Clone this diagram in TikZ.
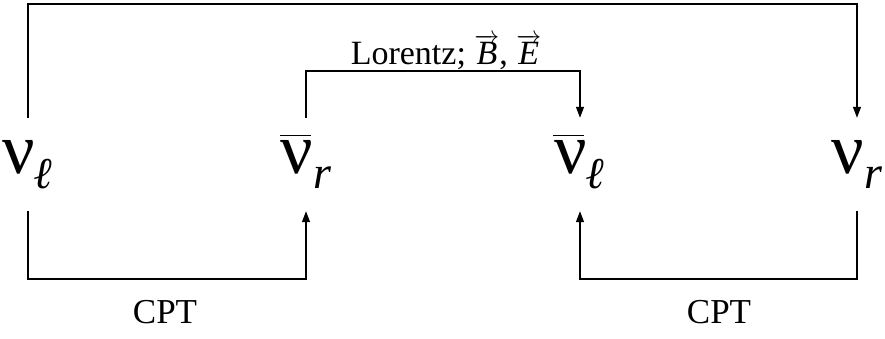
\documentclass[tikz,border=0pt]{standalone}
\usepackage{fontspec}
\setmainfont{Liberation Serif}
\usetikzlibrary{arrows.meta}
\newcommand\nuBig{\fontsize{72}{72}\selectfont ν}
\newcommand\nuBar{\rlap{\hspace{-1pt}\raisebox{38pt}{\rule{31pt}{1.4pt}}}\nuBig}
\newcommand\subsc[1]{\raisebox{-14pt}{\fontsize{46}{46}\selectfont\itshape #1}}
\newcommand\subell{\raisebox{-14pt}{\fontsize{44}{44}\selectfont\bfseries\itshape ℓ}}
\begin{document}
\begin{tikzpicture}[x=1pt,y=-1pt,
  lvl/.style={anchor=base,inner xsep=0pt,inner ysep=0pt,text height=56pt,text depth=37pt},
  conn/.style={line width=1.2pt},
  arr/.style={conn,-{Triangle[length=11pt,width=8pt]}},
  lab/.style={anchor=base,inner sep=0pt,font=\fontsize{34}{34}\selectfont}]
\useasboundingbox (0,0) rectangle (885,339);
\node[lvl] (nl) at (28,174) {\nuBig\subell};
\node[lvl] (abr) at (306,174) {\nuBar\subsc{r}};
\node[lvl] (abl) at (580,174) {\nuBar\subell};
\node[lvl] (nr) at (857,174) {\nuBig\subsc{r}};
\coordinate (toprow) at (0,4);
\coordinate (midrow) at (0,71);
\coordinate (botrow) at (0,279);
\draw[arr] (nl.north) -- (nl.north |- toprow) -| (nr.north);
\draw[arr] (abr.north) -- (abr.north |- midrow) -| (abl.north);
\draw[arr] (nl.south) -- (nl.south |- botrow) -| (abr.south);
\draw[arr] (nr.south) -- (nr.south |- botrow) -| (abl.south);
\node[lab] (lor) at (446,65) {Lorentz; \(\overrightarrow{\mbox{\itshape B}}\), \(\overrightarrow{\mbox{\itshape E}}\)};
\node[lab,font=\fontsize{35}{35}\selectfont] (cpt1) at (165,323) {CPT};
\node[lab,font=\fontsize{35}{35}\selectfont] (cpt2) at (719,323) {CPT};
\end{tikzpicture}
\end{document}
